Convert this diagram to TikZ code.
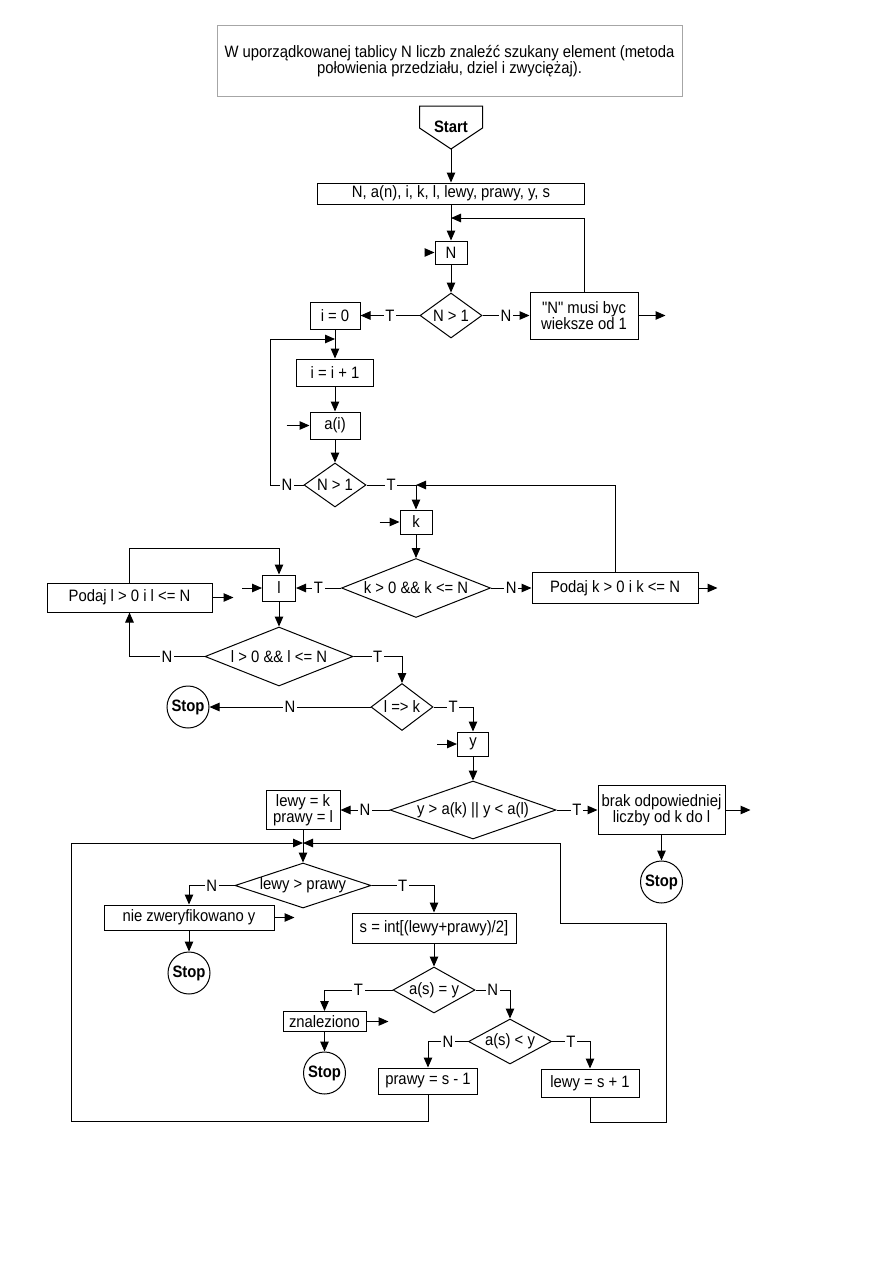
\documentclass[tikz,border=0pt]{standalone}
\usepackage{fontspec}
\newfontfamily\diafont{Liberation Sans}[FakeStretch=0.9]
\usetikzlibrary{arrows.meta,shapes.geometric,calc}
\begin{document}
\begin{tikzpicture}[x=1pt,y=-1pt,
  every node/.style={font=\diafont\fontsize{16.5}{16.5}\selectfont},
  line width=1pt,
  arr/.style={-{Triangle[length=10pt,width=8.5pt]}},
  box/.style={draw, rectangle, inner sep=1pt, align=center},
  dia/.style={draw, diamond, inner sep=0pt},
  stopc/.style={draw, circle, inner sep=0pt, minimum size=42pt, font=\diafont\fontsize{16.5}{16.5}\selectfont\bfseries},
  lbl/.style={fill=white, inner sep=1.5pt},
]
\fill[white] (0,0) rectangle (893,1263);
\useasboundingbox (0,0) rectangle (893,1263);

\node[box, draw=gray!70, minimum width=465, minimum height=70] (title) at (449.5,61) {W uporządkowanej tablicy N liczb znaleźć szukany element (metoda\\połowienia przedziału, dziel i zwyciężaj).};

\draw (419.5,106) -- (482.5,106) -- (482.5,128) -- (451,149) -- (419.5,128) -- cycle;
\node[font=\diafont\fontsize{16.5}{16.5}\selectfont\bfseries] (start) at (451,127) {Start};
\coordinate (startpt) at (451,149);

\node[box, minimum width=267, minimum height=21] (b1) at (451,193.5) {N, a(n), i, k, l, lewy, prawy, y, s};
\node[box, minimum width=32, minimum height=23] (nbox) at (451,252.5) {N};
\node[dia, minimum width=62, minimum height=45, label=center:{N > 1}] (d1) at (451,315.5) {};
\node[box, minimum width=50, minimum height=27] (i0) at (335,315.5) {i = 0};
\node[box, minimum width=108, minimum height=47] (nmusi) at (584,315.5) {"N" musi byc\\wieksze od 1};
\node[box, minimum width=77, minimum height=27] (ii1) at (335,372.5) {i = i + 1};
\node[box, minimum width=50, minimum height=27] (ai) at (335,425.5) {a(i)};
\node[dia, minimum width=62, minimum height=44, label=center:{N > 1}] (d2) at (335,485) {};
\node[box, minimum width=32, minimum height=24] (kbox) at (416,522) {k};
\node[dia, minimum width=149, minimum height=59, label=center:{k > 0 \&\& k <= N}] (d3) at (416,588) {};
\node[box, minimum width=166, minimum height=31] (podk) at (615,588) {Podaj k > 0 i k <= N};
\node[box, minimum width=33, minimum height=26] (lbox) at (279,588) {l};
\node[box, minimum width=165, minimum height=29] (podl) at (129.5,597.5) {Podaj l > 0 i l <= N};
\node[dia, minimum width=148, minimum height=59, label=center:{l > 0 \&\& l <= N}] (d4) at (279,656.5) {};
\node[dia, minimum width=62, minimum height=47, label=center:{l => k}] (d5) at (402,707) {};
\node[stopc] (stop1) at (188,707) {Stop};
\node[box, minimum width=31, minimum height=24] (ybox) at (473,744) {y};
\node[dia, minimum width=166, minimum height=58, label=center:{y > a(k) || y < a(l)}] (d6) at (473,810) {};
\node[box, minimum width=74, minimum height=39] (lk) at (303,810) {lewy = k\\prawy = l};
\node[box, minimum width=127, minimum height=49] (brak) at (661.5,810) {brak odpowiedniej\\liczby od k do l};
\node[stopc] (stop2) at (661.5,882) {Stop};
\coordinate (J) at (303,843);
\node[dia, minimum width=136, minimum height=45, label=center:{lewy > prawy}] (d7) at (303,885.5) {};
\node[box, minimum width=170, minimum height=25] (nie) at (189,917.5) {nie zweryfikowano y};
\node[stopc] (stop3) at (189,973) {Stop};
\node[box, minimum width=164, minimum height=30] (sbox) at (434,928) {s = int[(lewy+prawy)/2]};
\node[dia, minimum width=82, minimum height=46, label=center:{a(s) = y}] (d8) at (434,990) {};
\node[box, minimum width=83, minimum height=20] (zn) at (324.5,1021.5) {znaleziono};
\node[stopc] (stop4) at (324.5,1073) {Stop};
\node[dia, minimum width=83, minimum height=45, label=center:{a(s) < y}] (d9) at (510,1041.5) {};
\node[box, minimum width=99, minimum height=26] (prawy) at (428,1081) {prawy = s - 1};
\node[box, minimum width=98, minimum height=28] (lewys) at (590,1083) {lewy = s + 1};

\draw[arr] (startpt) -- (b1.north);
\draw[arr] (b1.south) -- (nbox.north);
\coordinate (T1) at (451,218);
\draw[arr] (nmusi.north) |- (T1);
\draw[arr] ($(nbox.west)+(-10,0)$) -- (nbox.west);
\draw[arr] (nbox.south) -- (d1.north);
\draw[arr] (d1.west) -- node[lbl]{T} (i0.east);
\draw[arr] (d1.east) -- node[lbl]{N} (nmusi.west);
\draw[arr] (nmusi.east) -- ++(27,0);
\draw[arr] (i0.south) -- (ii1.north);
\coordinate (j1) at (335,339);
\draw[arr] (d2.west) -- node[lbl]{N} ++(-33,0) |- (j1);
\draw[arr] (ii1.south) -- (ai.north);
\draw[arr] ($(ai.west)+(-23,0)$) -- (ai.west);
\draw[arr] (ai.south) -- (d2.north);
\draw[arr] (d2.east) -| node[lbl,pos=0.25]{T} (kbox.north);
\coordinate (j2) at (416,485);
\draw[arr] (podk.north) |- (j2);
\draw[arr] ($(kbox.west)+(-20,0)$) -- (kbox.west);
\draw[arr] (kbox.south) -- (d3.north);
\draw[arr] (d3.east) -- node[lbl]{N} (podk.west);
\draw[arr] (podk.east) -- ++(19,0);
\draw[arr] (d3.west) -- node[lbl]{T} (lbox.east);
\draw[arr] ($(lbox.west)+(-20,0)$) -- (lbox.west);
\draw[arr] (podl.north) -- ++(0,-34) -| (lbox.north);
\draw[arr] (podl.east) -- ++(21,0);
\draw[arr] (lbox.south) -- (d4.north);
\draw[arr] (d4.west) -| node[lbl,pos=0.25]{N} (podl.south);
\draw[arr] (d4.east) -| node[lbl,pos=0.25]{T} (d5.north);
\draw[arr] (d5.west) -- node[lbl]{N} (stop1.east);
\draw[arr] (d5.east) -| node[lbl,pos=0.25]{T} (ybox.north);
\draw[arr] ($(ybox.west)+(-20,0)$) -- (ybox.west);
\draw[arr] (ybox.south) -- (d6.north);
\draw[arr] (d6.west) -- node[lbl]{N} (lk.east);
\draw[arr] (d6.east) -- node[lbl]{T} (brak.west);
\draw[arr] (brak.east) -- ++(25,0);
\draw[arr] (brak.south) -- (stop2.north);
\draw[arr] (lk.south) -- (d7.north);
\coordinate (LL) at (71,1121);
\draw[arr] (prawy.south) |- (LL) |- (J);
\coordinate (R1) at (666,1122);
\coordinate (R2) at (560,923);
\draw[arr] (lewys.south) |- (R1) |- (R2) |- (J);
\draw[arr] (d7.west) -| node[lbl,pos=0.25]{N} (nie.north);
\draw[arr] (d7.east) -| node[lbl,pos=0.25]{T} (sbox.north);
\draw[arr] (nie.east) -- ++(20,0);
\draw[arr] (nie.south) -- (stop3.north);
\draw[arr] (sbox.south) -- (d8.north);
\draw[arr] (d8.west) -| node[lbl,pos=0.25]{T} (zn.north);
\draw[arr] (zn.east) -- ++(22,0);
\draw[arr] (zn.south) -- (stop4.north);
\draw[arr] (d8.east) -| node[lbl,pos=0.25]{N} (d9.north);
\draw[arr] (d9.west) -| node[lbl,pos=0.25]{N} (prawy.north);
\draw[arr] (d9.east) -| node[lbl,pos=0.25]{T} (lewys.north);
\end{tikzpicture}
\end{document}
